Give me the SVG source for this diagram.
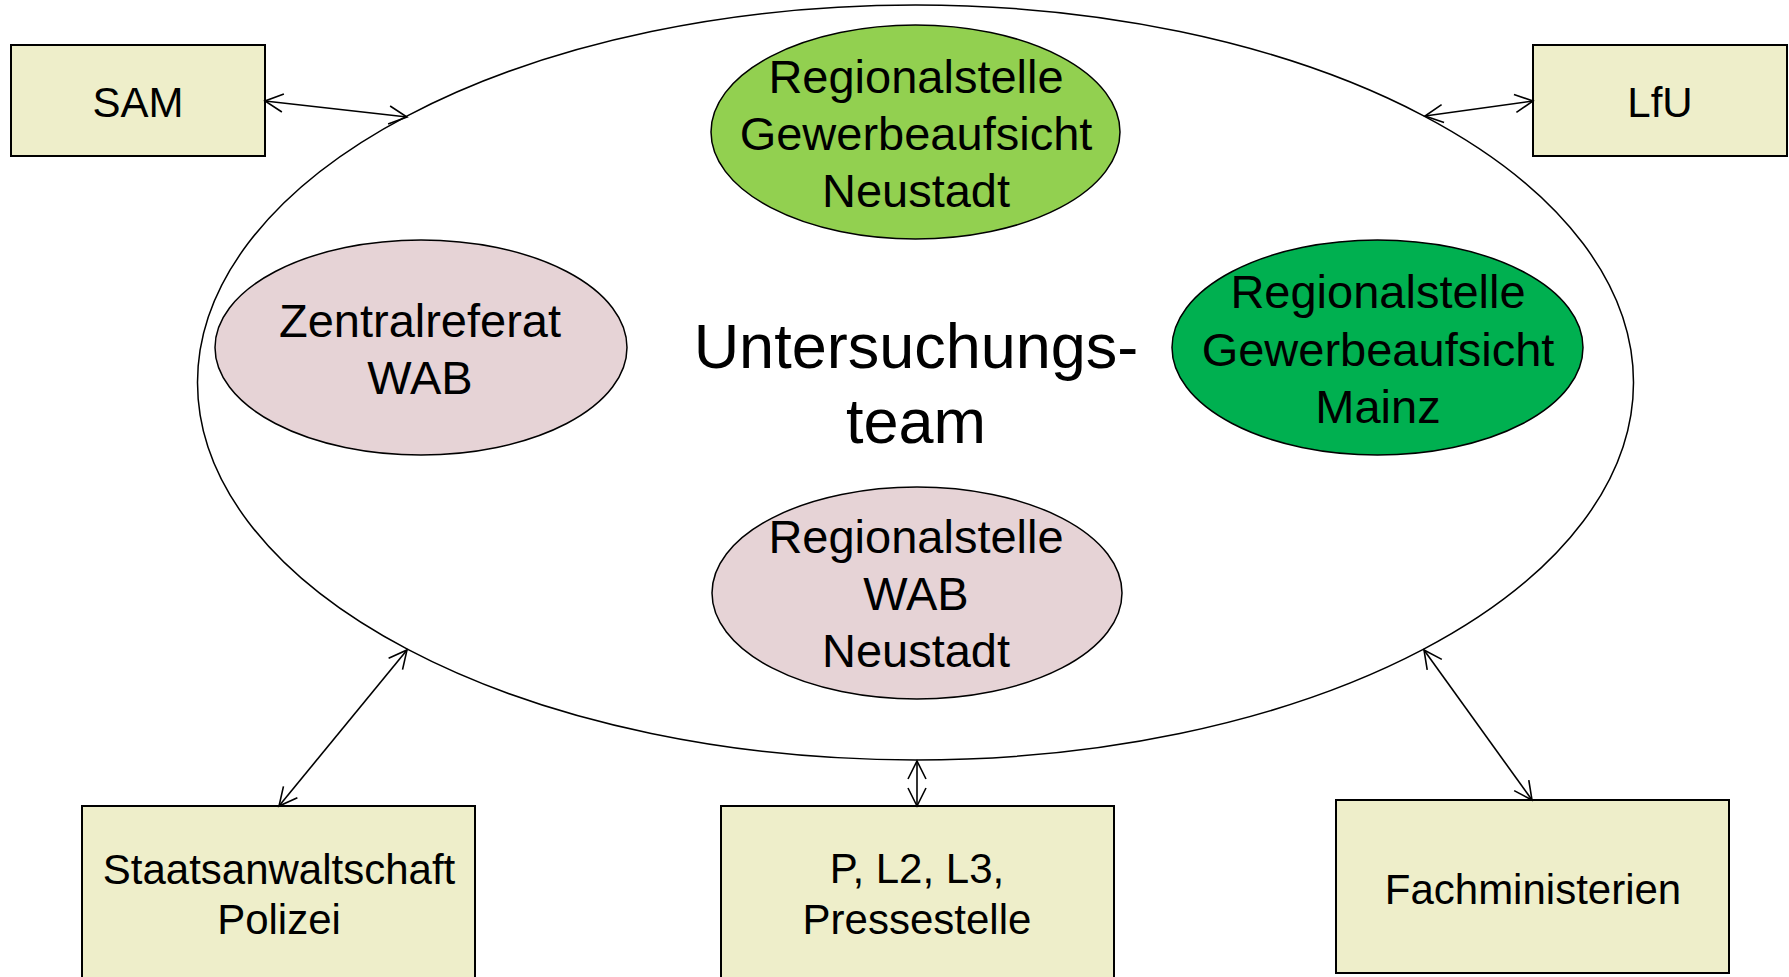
<svg xmlns="http://www.w3.org/2000/svg" width="1789" height="977" viewBox="0 0 1789 977">
<style>
text{font-family:"Liberation Sans",Arial,sans-serif;fill:#000;text-anchor:middle}
.box{fill:#EEEECA;stroke:#000;stroke-width:2}
.ell{stroke:#000;stroke-width:1.5}
.t47{font-size:47px}
.t42{font-size:42px}
.t63{font-size:63px}
.con{stroke:#000;stroke-width:1.6;fill:none;marker-start:url(#ah);marker-end:url(#ah)}
</style>
<defs>
<marker id="ah" markerUnits="userSpaceOnUse" markerWidth="24" markerHeight="24" viewBox="-20 -12 24 24" refX="0" refY="0" orient="auto-start-reverse">
<path d="M-18,-9 L0,0 L-18,9" fill="none" stroke="#000" stroke-width="1.6"/>
</marker>
</defs>
<rect width="1789" height="977" fill="#fff"/>
<g id="team">
<ellipse cx="915.5" cy="382.5" rx="718" ry="377.5" fill="#fff" class="ell"/>
<text class="t63" x="916" y="368">Untersuchungs-</text>
<text class="t63" x="916" y="443">team</text>
</g>
<g id="gewerbe-neustadt">
<ellipse cx="915.5" cy="132" rx="204.5" ry="107" fill="#92D050" class="ell"/>
<text class="t47" x="916" y="92.5">Regionalstelle</text>
<text class="t47" x="916" y="149.5">Gewerbeaufsicht</text>
<text class="t47" x="916" y="206.5">Neustadt</text>
</g>
<g id="zentralreferat">
<ellipse cx="421" cy="347.5" rx="206" ry="107.5" fill="#E6D3D6" class="ell"/>
<text class="t47" x="420" y="337">Zentralreferat</text>
<text class="t47" x="420" y="394">WAB</text>
</g>
<g id="gewerbe-mainz">
<ellipse cx="1377.5" cy="347.5" rx="205.5" ry="107.5" fill="#00B050" class="ell"/>
<text class="t47" x="1378" y="308">Regionalstelle</text>
<text class="t47" x="1378" y="366">Gewerbeaufsicht</text>
<text class="t47" x="1378" y="423">Mainz</text>
</g>
<g id="wab-neustadt">
<ellipse cx="917" cy="593" rx="205" ry="106" fill="#E6D3D6" class="ell"/>
<text class="t47" x="916" y="553">Regionalstelle</text>
<text class="t47" x="916" y="610">WAB</text>
<text class="t47" x="916" y="667">Neustadt</text>
</g>
<g id="sam">
<rect x="11" y="45" width="254" height="111" class="box"/>
<text class="t42" x="138" y="117">SAM</text>
</g>
<g id="lfu">
<rect x="1533" y="45" width="254" height="111" class="box"/>
<text class="t42" x="1660" y="117">LfU</text>
</g>
<g id="staatsanwaltschaft">
<rect x="82" y="806" width="393" height="180" class="box"/>
<text class="t42" x="279" y="884">Staatsanwaltschaft</text>
<text class="t42" x="279" y="934">Polizei</text>
</g>
<g id="presse">
<rect x="721" y="806" width="393" height="180" class="box"/>
<text class="t42" x="917" y="883">P, L2, L3,</text>
<text class="t42" x="917" y="934">Pressestelle</text>
</g>
<g id="fachministerien">
<rect x="1336" y="800" width="393" height="173" class="box"/>
<text class="t42" x="1533" y="904">Fachministerien</text>
</g>
<g id="connectors">
<line class="con" x1="265" y1="101" x2="407" y2="117"/>
<line class="con" x1="1425" y1="116" x2="1533" y2="101"/>
<line class="con" x1="407" y1="650" x2="279" y2="806"/>
<line class="con" x1="917" y1="761" x2="917" y2="806"/>
<line class="con" x1="1424" y1="650" x2="1532" y2="800"/>
</g>
</svg>
